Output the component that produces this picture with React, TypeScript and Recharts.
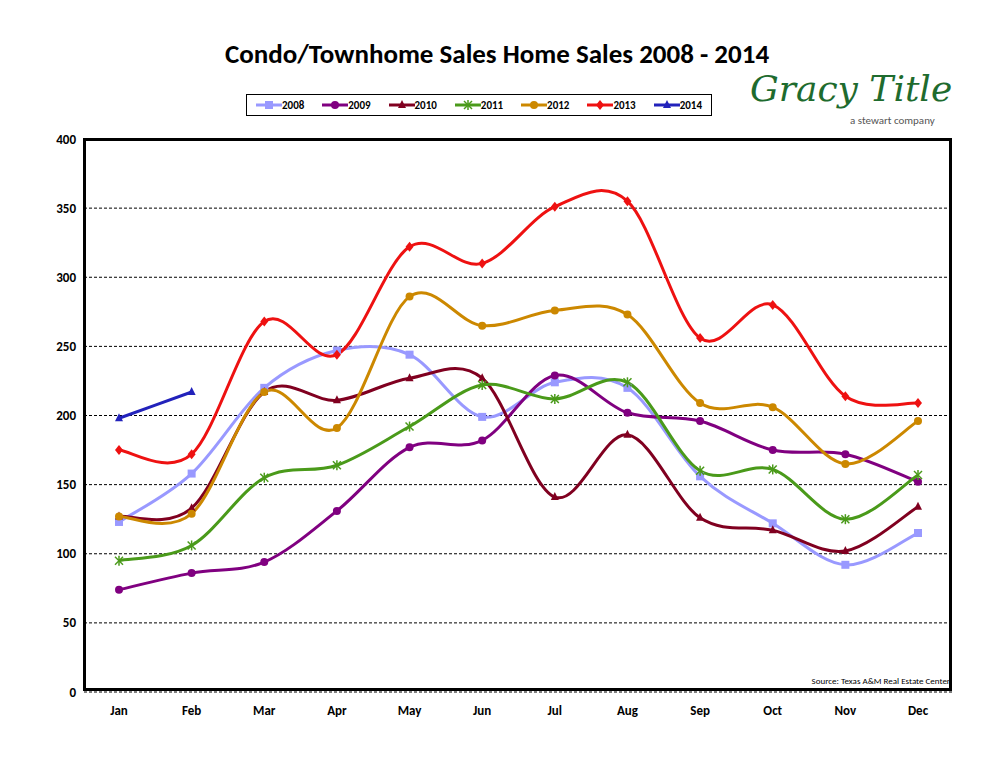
import React from "react";
import { LineChart, Line, XAxis, YAxis, CartesianGrid } from "recharts";

const months = ["Jan","Feb","Mar","Apr","May","Jun","Jul","Aug","Sep","Oct","Nov","Dec"];
const s2008 = [123,158,220,247,244,199,224,220,156,122,92,115];
const s2009 = [74,86,94,131,177,182,229,202,196,175,172,152];
const s2010 = [127,133,217,211,227,227,141,186,126,117,102,134];
const s2011 = [95,106,155,164,192,222,212,224,160,161,125,157];
const s2012 = [127,129,217,191,286,265,276,273,209,206,165,196];
const s2013 = [175,172,268,244,322,310,351,355,256,280,214,209];
const s2014: (number | null)[] = [198,217,null,null,null,null,null,null,null,null,null,null];
const yTicks = [0,50,100,150,200,250,300,350,400];

const data = months.map((m, i) => ({
  m, a: s2008[i], b: s2009[i], c: s2010[i], d: s2011[i], e: s2012[i], f: s2013[i], g: s2014[i],
}));

const series = [
  { k: "a", name: "2008", color: "#9999ff", shape: "square" },
  { k: "b", name: "2009", color: "#800080", shape: "circle" },
  { k: "c", name: "2010", color: "#800020", shape: "triangle" },
  { k: "d", name: "2011", color: "#4a9a1a", shape: "x" },
  { k: "e", name: "2012", color: "#cc8800", shape: "circle" },
  { k: "f", name: "2013", color: "#ee1111", shape: "diamond" },
  { k: "g", name: "2014", color: "#2222bb", shape: "triangle" },
];

// Catmull-Rom style smoothing (like Excel smoothed lines)
function smoothCurve(ctx: any) {
  let pts: [number, number][] = [];
  return {
    areaStart() {}, areaEnd() {},
    lineStart() { pts = []; },
    point(x: number, y: number) { pts.push([+x, +y]); },
    lineEnd() {
      if (!pts.length) return;
      ctx.moveTo(pts[0][0], pts[0][1]);
      for (let i = 0; i < pts.length - 1; i++) {
        const p0 = pts[Math.max(0, i - 1)], p1 = pts[i], p2 = pts[i + 1], p3 = pts[Math.min(pts.length - 1, i + 2)];
        ctx.bezierCurveTo(
          p1[0] + (p2[0] - p0[0]) / 6, p1[1] + (p2[1] - p0[1]) / 6,
          p2[0] - (p3[0] - p1[0]) / 6, p2[1] - (p3[1] - p1[1]) / 6,
          p2[0], p2[1]);
      }
    },
  };
}

function Marker({ shape, color, cx, cy }: any) {
  if (cx == null || cy == null || isNaN(cy)) return null;
  const r = 4;
  if (shape === "square") return <rect x={cx - r} y={cy - r} width={2 * r} height={2 * r} fill={color} />;
  if (shape === "circle") return <circle cx={cx} cy={cy} r={r} fill={color} />;
  if (shape === "triangle") return <polygon points={`${cx},${cy - r - 1} ${cx - r},${cy + r - 1} ${cx + r},${cy + r - 1}`} fill={color} />;
  if (shape === "diamond") return <polygon points={`${cx},${cy - r - 1} ${cx + r},${cy} ${cx},${cy + r + 1} ${cx - r},${cy}`} fill={color} />;
  return (
    <g stroke={color} strokeWidth={1.5}>
      <line x1={cx - r} y1={cy - r} x2={cx + r} y2={cy + r} />
      <line x1={cx - r} y1={cy + r} x2={cx + r} y2={cy - r} />
      <line x1={cx} y1={cy - r - 1} x2={cx} y2={cy + r + 1} />
    </g>
  );
}

export default function App() {
  const font = "Calibri, Carlito, 'Liberation Sans', Arial, sans-serif";
  return (
    <div style={{ position: "relative", width: 994, height: 768, margin: -8, background: "#fff", fontFamily: font }}>
      <div style={{ position: "absolute", top: 37, left: 0, width: 994, textAlign: "center", fontSize: 27, fontWeight: "bold" }}>
        Condo/Townhome Sales Home Sales 2008 - 2014
      </div>
      <div style={{ position: "absolute", top: 94, left: 246, width: 466, height: 22, border: "1px solid #000", display: "flex", alignItems: "center", justifyContent: "space-around", fontSize: 11, fontWeight: "bold", boxSizing: "border-box" }}>
        {series.map((s) => (
          <span key={s.k} style={{ display: "flex", alignItems: "center" }}>
            <svg width={26} height={10}>
              <line x1={0} y1={5} x2={26} y2={5} stroke={s.color} strokeWidth={3} />
              <Marker shape={s.shape} color={s.color} cx={13} cy={5} />
            </svg>
            {s.name}
          </span>
        ))}
      </div>
      <div style={{ position: "absolute", top: 68, left: 750, color: "#1e6b2e", fontFamily: "'DejaVu Serif', serif", fontStyle: "italic", fontSize: 36 }}>
        Gracy Title
      </div>
      <div style={{ position: "absolute", top: 114, left: 850, color: "#555", fontSize: 11 }}>a stewart company</div>
      <LineChart width={994} height={768} data={data} margin={{ top: 139, left: 34, right: 41, bottom: 46 }}>
        <CartesianGrid vertical={false} stroke="#000" strokeDasharray="3 2" />
        <XAxis dataKey="m" padding={{ left: 35, right: 35 }} height={30} tickLine={false} axisLine={false}
          tick={{ fontSize: 13, fontWeight: "bold", fill: "#000", fontFamily: font }} tickMargin={8} />
        <YAxis width={50} domain={[0, 400]} ticks={yTicks} axisLine={false} tickLine={false}
          tick={{ fontSize: 13, fontWeight: "bold", fill: "#000", fontFamily: font }} />
        {series.map((s) => (
          <Line key={s.k} dataKey={s.k} type={smoothCurve as any} stroke={s.color} strokeWidth={3} isAnimationActive={false}
            connectNulls={false}
            dot={(p: any) => <Marker key={p.index} shape={s.shape} color={s.color} cx={p.cx} cy={p.cy} />} />
        ))}
      </LineChart>
      <div style={{ position: "absolute", left: 84, top: 139, width: 869, height: 553, border: "3px solid #000", boxSizing: "border-box", pointerEvents: "none", marginLeft: -1, marginTop: -1 }} />
      <div style={{ position: "absolute", right: 44, top: 675, fontSize: 9 }}>Source: Texas A&amp;M Real Estate Center</div>
    </div>
  );
}
